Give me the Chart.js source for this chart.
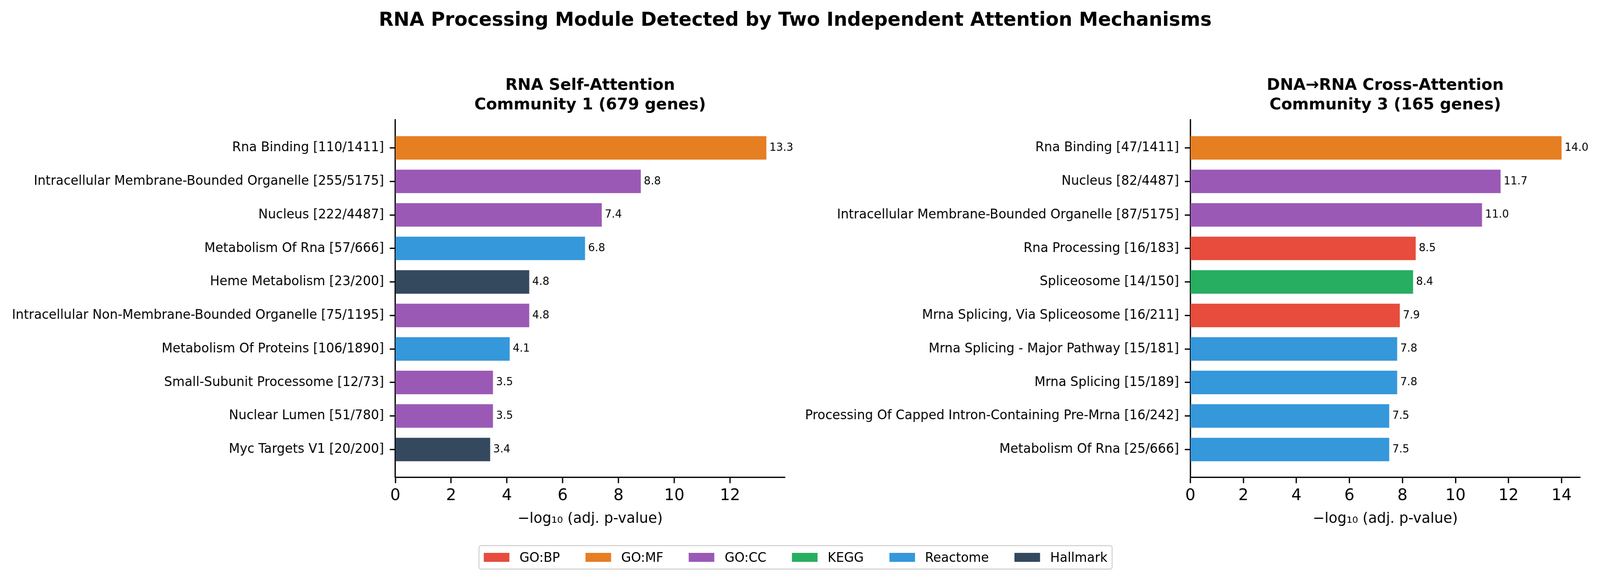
<!DOCTYPE html>
<html>
<head>
<meta charset="utf-8">
<script src="https://cdn.jsdelivr.net/npm/chart.js@4.4.1/dist/chart.umd.min.js"></script>
<style>
  html, body { margin: 0; padding: 0; background: #fff; overflow: hidden; }
  #fig {
    position: relative; width: 4185px; height: 1487px; overflow: hidden;
    transform-origin: 0 0; font-family: 'DejaVu Sans', sans-serif;
  }
  #suptitle {
    position: absolute; left: 0; top: 24px; width: 4160px; text-align: center;
    font: bold 50px/50px 'DejaVu Sans'; color: #000;
  }
  canvas { position: absolute; }
  #leftChart { left: 0; top: 170px; }
  #rightChart { left: 2100px; top: 170px; }
  #legend {
    position: absolute; left: 2081px; top: 1395px; height: 63px; transform: translateX(-50%);
    box-sizing: border-box; border: 3px solid #d6d6d6; border-radius: 7px;
    display: flex; align-items: center; padding: 0 11px; white-space: nowrap;
    font: 33.3px 'DejaVu Sans'; color: #000;
  }
  .item { display: flex; align-items: center; margin-right: 66.6px; }
  .item:last-child { margin-right: 0; }
  .swatch { width: 67px; height: 23px; margin-right: 26.6px; }
</style>
</head>
<body>
<div id="fig">
  <div id="suptitle">RNA Processing Module Detected by Two Independent Attention Mechanisms</div>
  <canvas id="leftChart" width="2100" height="1200"></canvas>
  <canvas id="rightChart" width="2085" height="1200"></canvas>
  <div id="legend"></div>
</div>
<script>
  'use strict';

  // Enrichment results, top 10 per community
  const leftTerms = [
    'Rna Binding [110/1411]',
    'Intracellular Membrane-Bounded Organelle [255/5175]',
    'Nucleus [222/4487]',
    'Metabolism Of Rna [57/666]',
    'Heme Metabolism [23/200]',
    'Intracellular Non-Membrane-Bounded Organelle [75/1195]',
    'Metabolism Of Proteins [106/1890]',
    'Small-Subunit Processome [12/73]',
    'Nuclear Lumen [51/780]',
    'Myc Targets V1 [20/200]'
  ];
  const leftValues = [13.3, 8.8, 7.4, 6.8, 4.8, 4.8, 4.1, 3.5, 3.5, 3.4];
  const leftSources = ['GO:MF', 'GO:CC', 'GO:CC', 'Reactome', 'Hallmark', 'GO:CC', 'Reactome', 'GO:CC', 'GO:CC', 'Hallmark'];

  const rightTerms = [
    'Rna Binding [47/1411]',
    'Nucleus [82/4487]',
    'Intracellular Membrane-Bounded Organelle [87/5175]',
    'Rna Processing [16/183]',
    'Spliceosome [14/150]',
    'Mrna Splicing, Via Spliceosome [16/211]',
    'Mrna Splicing - Major Pathway [15/181]',
    'Mrna Splicing [15/189]',
    'Processing Of Capped Intron-Containing Pre-Mrna [16/242]',
    'Metabolism Of Rna [25/666]'
  ];
  const rightValues = [14.0, 11.7, 11.0, 8.5, 8.4, 7.9, 7.8, 7.8, 7.5, 7.5];
  const rightSources = ['GO:MF', 'GO:CC', 'GO:CC', 'GO:BP', 'KEGG', 'GO:BP', 'Reactome', 'Reactome', 'Reactome', 'Reactome'];

  const sourceNames = ['GO:BP', 'GO:MF', 'GO:CC', 'KEGG', 'Reactome', 'Hallmark'];
  const sourceColors = ['#e74c3c', '#e67e22', '#9b59b6', '#27ae60', '#3498db', '#34495e'];

  // The window is narrower than the figure, so squeeze the figure to fit its width
  document.getElementById('fig').style.transform =
    'scale(' + Math.min(1, window.innerWidth / 4185) + ', 1)';

  Chart.defaults.font.family = "'DejaVu Sans', sans-serif";
  Chart.defaults.color = '#000';

  // Writes the value just past the end of each bar
  const valueLabels = {
    id: 'valueLabels',
    afterDatasetsDraw(chart) {
      const ctx = chart.ctx;
      const meta = chart.getDatasetMeta(0);
      ctx.save();
      ctx.font = "28px 'DejaVu Sans'";
      ctx.fillStyle = '#000';
      ctx.textAlign = 'left';
      ctx.textBaseline = 'middle';
      meta.data.forEach(function (bar, i) {
        const v = chart.data.datasets[0].data[i].x;
        ctx.fillText(v.toFixed(1), bar.x + 8, bar.y);
      });
      ctx.restore();
    }
  };

  function colorFor(src) {
    return sourceColors[sourceNames.indexOf(src)];
  }

  function makeChart(id, titleLines, terms, values, sources, yWidth, padRight) {
    const xMax = Math.max.apply(null, values) * 1.05;
    return new Chart(document.getElementById(id), {
      type: 'bar',
      data: {
        datasets: [{
          data: values.map((v, i) => ({ x: v, y: i })),
          backgroundColor: sources.map(colorFor),
          borderWidth: 0,
          barPercentage: 0.7,
          categoryPercentage: 1.0
        }]
      },
      plugins: [valueLabels],
      options: {
        indexAxis: 'y',
        responsive: false,
        animation: false,
        devicePixelRatio: 1,
        layout: { padding: { left: 0, right: padRight, top: 0, bottom: 0 } },
        plugins: {
          legend: { display: false },
          tooltip: { enabled: false },
          title: {
            display: true,
            fullSize: false,
            text: titleLines,
            color: '#000',
            font: { size: 41.7, weight: 'bold', lineHeight: 1.2 },
            padding: { top: 24, bottom: 12.9 }
          }
        },
        scales: {
          x: {
            type: 'linear',
            min: 0,
            max: xMax,
            afterFit: function (scale) { scale.height = 148; },
            ticks: {
              stepSize: 2,
              includeBounds: false,
              padding: 7.4,
              font: { size: 41.7 },
              color: '#000'
            },
            grid: {
              display: true,
              drawOnChartArea: false,
              drawTicks: true,
              tickLength: 14.6,
              tickWidth: 3.3,
              tickColor: '#000'
            },
            border: { display: true, color: '#000', width: 3.3 },
            title: {
              display: true,
              text: '\u2212log\u2081\u2080 (adj. p-value)',
              color: '#000',
              font: { size: 37.5, lineHeight: 1.2 },
              padding: { top: 0, bottom: 19 }
            }
          },
          y: {
            type: 'linear',
            reverse: true,
            offset: false,
            min: -0.835,
            max: terms.length - 1 + 0.835,
            afterFit: function (scale) { scale.width = yWidth; },
            afterBuildTicks: function (scale) {
              scale.ticks = terms.map((_, i) => ({ value: i }));
            },
            ticks: {
              autoSkip: false,
              padding: 15,
              font: { size: 33.3 },
              color: '#000',
              callback: function (value) { return terms[Math.round(value)]; }
            },
            grid: {
              display: true,
              offset: false,
              drawOnChartArea: false,
              drawTicks: true,
              tickLength: 14.6,
              tickWidth: 3.3,
              tickColor: '#000'
            },
            border: { display: true, color: '#000', width: 3.3 }
          }
        }
      }
    });
  }

  makeChart('leftChart', ['RNA Self-Attention', 'Community 1 (679 genes)'],
    leftTerms, leftValues, leftSources, 1034, 47);
  makeChart('rightChart', ['DNA\u2192RNA Cross-Attention', 'Community 3 (165 genes)'],
    rightTerms, rightValues, rightSources, 1013.5, 52);

  // Shared legend for the annotation sources
  const legendEl = document.getElementById('legend');
  sourceNames.forEach(function (name, i) {
    const item = document.createElement('div');
    item.className = 'item';
    const sw = document.createElement('span');
    sw.className = 'swatch';
    sw.style.background = sourceColors[i];
    const txt = document.createElement('span');
    txt.textContent = name;
    item.appendChild(sw);
    item.appendChild(txt);
    legendEl.appendChild(item);
  });
</script>
</body>
</html>
